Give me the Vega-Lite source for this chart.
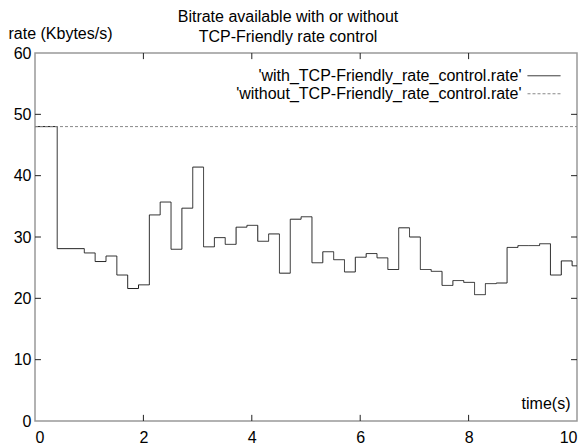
{
  "$schema": "https://vega.github.io/schema/vega-lite/v6.json",
  "width": 542,
  "height": 368,
  "autosize": {"type": "none"},
  "padding": {"left": 35, "top": 53, "right": 7, "bottom": 24},
  "background": "white",
  "title": {
    "text": ["Bitrate available with or without", "TCP-Friendly rate control"],
    "anchor": "middle",
    "dx": -18,
    "offset": -20,
    "fontSize": 16,
    "fontWeight": "normal",
    "font": "Liberation Sans",
    "color": "#000",
    "lineHeight": 20
  },
  "datasets": {
    "xticks": [{"v": 2}, {"v": 4}, {"v": 6}, {"v": 8}],
    "yticks": [{"v": 10}, {"v": 20}, {"v": 30}, {"v": 40}, {"v": 50}],
    "rates": [
      {"t": 0, "rate": 48, "series": "'with_TCP-Friendly_rate_control.rate'"},
      {"t": 0.41, "rate": 28.1, "series": "'with_TCP-Friendly_rate_control.rate'"},
      {"t": 0.91, "rate": 27.4, "series": "'with_TCP-Friendly_rate_control.rate'"},
      {"t": 1.11, "rate": 26.0, "series": "'with_TCP-Friendly_rate_control.rate'"},
      {"t": 1.31, "rate": 26.9, "series": "'with_TCP-Friendly_rate_control.rate'"},
      {"t": 1.51, "rate": 23.8, "series": "'with_TCP-Friendly_rate_control.rate'"},
      {"t": 1.71, "rate": 21.6, "series": "'with_TCP-Friendly_rate_control.rate'"},
      {"t": 1.91, "rate": 22.2, "series": "'with_TCP-Friendly_rate_control.rate'"},
      {"t": 2.11, "rate": 33.6, "series": "'with_TCP-Friendly_rate_control.rate'"},
      {"t": 2.31, "rate": 35.7, "series": "'with_TCP-Friendly_rate_control.rate'"},
      {"t": 2.51, "rate": 28.0, "series": "'with_TCP-Friendly_rate_control.rate'"},
      {"t": 2.71, "rate": 34.7, "series": "'with_TCP-Friendly_rate_control.rate'"},
      {"t": 2.91, "rate": 41.4, "series": "'with_TCP-Friendly_rate_control.rate'"},
      {"t": 3.11, "rate": 28.4, "series": "'with_TCP-Friendly_rate_control.rate'"},
      {"t": 3.31, "rate": 29.9, "series": "'with_TCP-Friendly_rate_control.rate'"},
      {"t": 3.51, "rate": 28.8, "series": "'with_TCP-Friendly_rate_control.rate'"},
      {"t": 3.71, "rate": 31.6, "series": "'with_TCP-Friendly_rate_control.rate'"},
      {"t": 3.91, "rate": 31.9, "series": "'with_TCP-Friendly_rate_control.rate'"},
      {"t": 4.11, "rate": 29.3, "series": "'with_TCP-Friendly_rate_control.rate'"},
      {"t": 4.31, "rate": 30.5, "series": "'with_TCP-Friendly_rate_control.rate'"},
      {"t": 4.51, "rate": 24.1, "series": "'with_TCP-Friendly_rate_control.rate'"},
      {"t": 4.71, "rate": 32.9, "series": "'with_TCP-Friendly_rate_control.rate'"},
      {"t": 4.91, "rate": 33.3, "series": "'with_TCP-Friendly_rate_control.rate'"},
      {"t": 5.11, "rate": 25.8, "series": "'with_TCP-Friendly_rate_control.rate'"},
      {"t": 5.31, "rate": 27.6, "series": "'with_TCP-Friendly_rate_control.rate'"},
      {"t": 5.51, "rate": 26.3, "series": "'with_TCP-Friendly_rate_control.rate'"},
      {"t": 5.71, "rate": 24.3, "series": "'with_TCP-Friendly_rate_control.rate'"},
      {"t": 5.91, "rate": 26.7, "series": "'with_TCP-Friendly_rate_control.rate'"},
      {"t": 6.11, "rate": 27.3, "series": "'with_TCP-Friendly_rate_control.rate'"},
      {"t": 6.31, "rate": 26.6, "series": "'with_TCP-Friendly_rate_control.rate'"},
      {"t": 6.51, "rate": 24.7, "series": "'with_TCP-Friendly_rate_control.rate'"},
      {"t": 6.71, "rate": 31.5, "series": "'with_TCP-Friendly_rate_control.rate'"},
      {"t": 6.91, "rate": 30.0, "series": "'with_TCP-Friendly_rate_control.rate'"},
      {"t": 7.11, "rate": 24.7, "series": "'with_TCP-Friendly_rate_control.rate'"},
      {"t": 7.31, "rate": 24.4, "series": "'with_TCP-Friendly_rate_control.rate'"},
      {"t": 7.51, "rate": 22.1, "series": "'with_TCP-Friendly_rate_control.rate'"},
      {"t": 7.71, "rate": 22.9, "series": "'with_TCP-Friendly_rate_control.rate'"},
      {"t": 7.91, "rate": 22.6, "series": "'with_TCP-Friendly_rate_control.rate'"},
      {"t": 8.11, "rate": 20.6, "series": "'with_TCP-Friendly_rate_control.rate'"},
      {"t": 8.31, "rate": 22.4, "series": "'with_TCP-Friendly_rate_control.rate'"},
      {"t": 8.51, "rate": 22.5, "series": "'with_TCP-Friendly_rate_control.rate'"},
      {"t": 8.71, "rate": 28.3, "series": "'with_TCP-Friendly_rate_control.rate'"},
      {"t": 8.91, "rate": 28.6, "series": "'with_TCP-Friendly_rate_control.rate'"},
      {"t": 9.11, "rate": 28.6, "series": "'with_TCP-Friendly_rate_control.rate'"},
      {"t": 9.31, "rate": 28.9, "series": "'with_TCP-Friendly_rate_control.rate'"},
      {"t": 9.51, "rate": 23.8, "series": "'with_TCP-Friendly_rate_control.rate'"},
      {"t": 9.71, "rate": 26.1, "series": "'with_TCP-Friendly_rate_control.rate'"},
      {"t": 9.91, "rate": 25.3, "series": "'with_TCP-Friendly_rate_control.rate'"},
      {"t": 10, "rate": 25.3, "series": "'with_TCP-Friendly_rate_control.rate'"},
      {"t": 0, "rate": 48, "series": "'without_TCP-Friendly_rate_control.rate'"},
      {"t": 10, "rate": 48, "series": "'without_TCP-Friendly_rate_control.rate'"}
    ]
  },
  "layer": [
    {
      "data": {"name": "rates"},
      "mark": {"type": "line", "interpolate": "step-after", "strokeWidth": 1, "clip": true},
      "encoding": {
        "x": {
          "field": "t", "type": "quantitative",
          "scale": {"domain": [0, 10], "nice": false, "zero": false},
          "axis": {
            "orient": "bottom",
            "values": [0, 2, 4, 6, 8, 10],
            "title": "time(s)",
            "titleX": 535, "titleY": -18,
            "titleAlign": "right", "titleBaseline": "middle",
            "titleAnchor": null,
            "labelPadding": 8
          }
        },
        "y": {
          "field": "rate", "type": "quantitative",
          "scale": {"domain": [0, 60], "nice": false},
          "axis": {
            "orient": "left",
            "values": [0, 10, 20, 30, 40, 50, 60],
            "title": "rate (Kbytes/s)",
            "titleAngle": 0,
            "titleX": -27, "titleY": -20,
            "titleAlign": "left", "titleBaseline": "middle",
            "titleAnchor": null,
            "labelPadding": 4
          }
        },
        "color": {
          "field": "series", "type": "nominal",
          "scale": {
            "domain": ["'with_TCP-Friendly_rate_control.rate'", "'without_TCP-Friendly_rate_control.rate'"],
            "range": ["#1a1a1a", "#888888"]
          },
          "legend": {"title": null, "orient": "none", "legendX": 500, "legendY": 13.75, "labelAlign": "right", "labelOffset": -31.5, "labelLimit": 0, "symbolType": "M-2,0H2", "symbolSize": 272, "rowPadding": 1, "padding": 0}
        },
        "strokeDash": {
          "field": "series", "type": "nominal",
          "scale": {
            "domain": ["'with_TCP-Friendly_rate_control.rate'", "'without_TCP-Friendly_rate_control.rate'"],
            "range": [[1, 0], [3, 2]]
          },
          "legend": {"title": null, "orient": "none", "legendX": 500, "legendY": 13.75, "labelAlign": "right", "labelOffset": -31.5, "labelLimit": 0, "symbolType": "M-2,0H2", "symbolSize": 272, "rowPadding": 1, "padding": 0}
        }
      }
    },
    {
      "data": {"name": "xticks"},
      "mark": {"type": "rule", "color": "#222222", "strokeWidth": 1},
      "encoding": {
        "x": {"field": "v", "type": "quantitative"},
        "y": {"datum": 0, "type": "quantitative"},
        "y2": {"datum": 1}
      }
    },
    {
      "data": {"name": "xticks"},
      "mark": {"type": "rule", "color": "#222222", "strokeWidth": 1},
      "encoding": {
        "x": {"field": "v", "type": "quantitative"},
        "y": {"datum": 60, "type": "quantitative"},
        "y2": {"datum": 59}
      }
    },
    {
      "data": {"name": "yticks"},
      "mark": {"type": "rule", "color": "#222222", "strokeWidth": 1},
      "encoding": {
        "y": {"field": "v", "type": "quantitative"},
        "x": {"datum": 0, "type": "quantitative"},
        "x2": {"datum": 0.11}
      }
    },
    {
      "data": {"name": "yticks"},
      "mark": {"type": "rule", "color": "#222222", "strokeWidth": 1},
      "encoding": {
        "y": {"field": "v", "type": "quantitative"},
        "x": {"datum": 10, "type": "quantitative"},
        "x2": {"datum": 9.89}
      }
    }
  ],
  "config": {
    "font": "Liberation Sans",
    "view": {"stroke": "#999999", "strokeWidth": 1.5},
    "axis": {
      "domain": false,
      "grid": false,
      "ticks": false,
      "labelFont": "Liberation Sans",
      "labelFontSize": 16,
      "labelColor": "#000",
      "titleFont": "Liberation Sans",
      "titleFontSize": 16,
      "titleFontWeight": "normal",
      "titleColor": "#000"
    },
    "legend": {
      "labelFont": "Liberation Sans",
      "labelFontSize": 16,
      "labelColor": "#000",
      "symbolStrokeWidth": 1,
      "symbolStrokeColor": null
    }
  }
}
